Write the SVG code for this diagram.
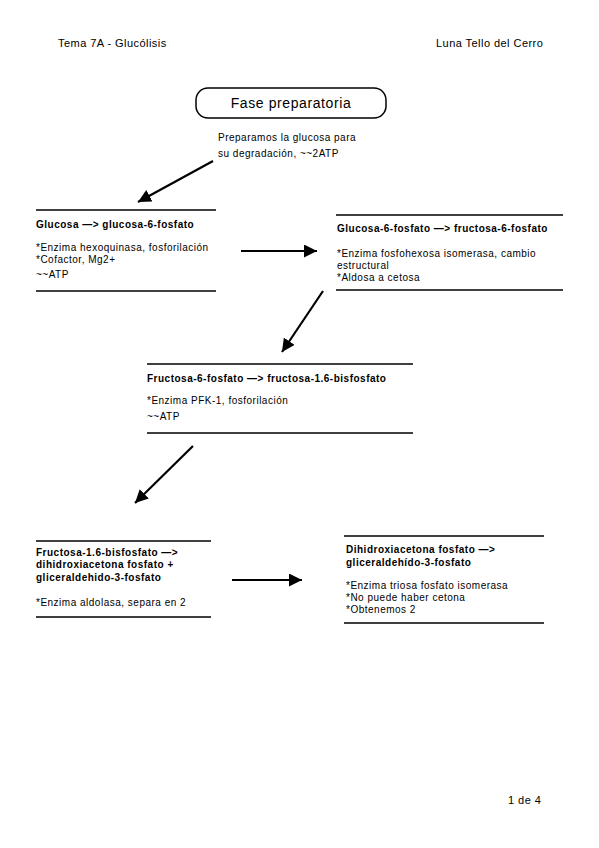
<svg xmlns="http://www.w3.org/2000/svg" width="599" height="848" viewBox="0 0 599 848">
<defs>
<style>
text{font-family:"Liberation Sans",Arial,sans-serif;fill:#000}
.hdr{font-size:11px;letter-spacing:0.45px}
.t{font-size:10px;font-weight:bold;letter-spacing:0.5px}
.b{font-size:10px;letter-spacing:0.5px}
.rule{stroke:#000;stroke-width:1.3;fill:none}
.arr{stroke:#000;stroke-width:2.2;fill:none;marker-end:url(#ah)}
</style>
<marker id="ah" markerUnits="userSpaceOnUse" markerWidth="15" markerHeight="13" refX="13" refY="6.5" orient="auto">
<path d="M0,0 L13,6.5 L0,13 Z" fill="#000"/>
</marker>
</defs>
<rect width="599" height="848" fill="#fff"/>
<g id="header">
<text class="hdr" x="58" y="47">Tema 7A - Glucólisis</text>
<text class="hdr" x="436" y="47">Luna Tello del Cerro</text>
</g>
<g id="fase">
<rect x="196" y="88" width="190" height="30" rx="12" fill="#fff" stroke="#000" stroke-width="1.5"/>
<text x="291" y="108" text-anchor="middle" font-size="14" letter-spacing="0.6">Fase preparatoria</text>
<text class="b" x="218" y="141">Preparamos la glucosa para</text>
<text class="b" x="218" y="157">su degradación, ~~2ATP</text>
</g>
<g id="n1">
<line class="rule" x1="36" y1="210" x2="216" y2="210"/>
<text class="t" x="36" y="228">Glucosa  —&gt; glucosa-6-fosfato</text>
<text class="b" x="36" y="251">*Enzima hexoquinasa, fosforilación</text>
<text class="b" x="36" y="263">*Cofactor, Mg2+</text>
<text class="b" x="36" y="278">~~ATP</text>
<line class="rule" x1="36" y1="291" x2="216" y2="291"/>
</g>
<g id="n2">
<line class="rule" x1="336" y1="215" x2="563" y2="215"/>
<text class="t" x="337" y="232">Glucosa-6-fosfato  —&gt; fructosa-6-fosfato</text>
<text class="b" x="337" y="257">*Enzima fosfohexosa isomerasa, cambio</text>
<text class="b" x="337" y="269">estructural</text>
<text class="b" x="337" y="281">*Aldosa a cetosa</text>
<line class="rule" x1="336" y1="290" x2="563" y2="290"/>
</g>
<g id="n3">
<line class="rule" x1="147" y1="364" x2="413" y2="364"/>
<text class="t" x="147" y="382">Fructosa-6-fosfato  —&gt; fructosa-1.6-bisfosfato</text>
<text class="b" x="147" y="404">*Enzima PFK-1, fosforilación</text>
<text class="b" x="147" y="420">~~ATP</text>
<line class="rule" x1="147" y1="433" x2="413" y2="433"/>
</g>
<g id="n4">
<line class="rule" x1="36" y1="541" x2="211" y2="541"/>
<text class="t" x="36" y="556">Fructosa-1.6-bisfosfato  —&gt;</text>
<text class="t" x="36" y="568">dihidroxiacetona fosfato +</text>
<text class="t" x="36" y="581">gliceraldehido-3-fosfato</text>
<text class="b" x="36" y="606">*Enzima aldolasa, separa en 2</text>
<line class="rule" x1="36" y1="617" x2="211" y2="617"/>
</g>
<g id="n5">
<line class="rule" x1="344" y1="536" x2="544" y2="536"/>
<text class="t" x="346" y="553">Dihidroxiacetona fosfato  —&gt;</text>
<text class="t" x="346" y="566">gliceraldehído-3-fosfato</text>
<text class="b" x="346" y="589">*Enzima triosa fosfato isomerasa</text>
<text class="b" x="346" y="601">*No puede haber cetona</text>
<text class="b" x="346" y="613">*Obtenemos 2</text>
<line class="rule" x1="344" y1="623" x2="544" y2="623"/>
</g>
<g id="connectors">
<line class="arr" x1="213" y1="161" x2="138" y2="202"/>
<line class="arr" x1="241" y1="251" x2="317" y2="251"/>
<line class="arr" x1="323" y1="291" x2="282" y2="352"/>
<line class="arr" x1="193" y1="446" x2="135" y2="503"/>
<line class="arr" x1="232" y1="580" x2="302" y2="580"/>
</g>
<g id="footer">
<text class="hdr" x="508" y="804">1 de 4</text>
</g>
</svg>
